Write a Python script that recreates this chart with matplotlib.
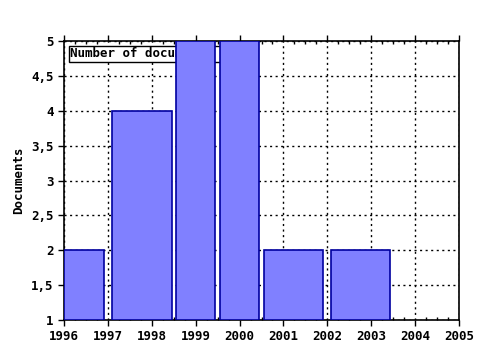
import matplotlib
matplotlib.use("Agg")
import matplotlib.pyplot as plt
from matplotlib.ticker import MultipleLocator, FuncFormatter

# bar edges (years) and counts
bar_left = [1996.0, 1997.09, 1998.55, 1999.55, 2000.55, 2002.09]
bar_right = [1996.91, 1998.45, 1999.43, 2000.44, 2001.89, 2003.43]
documents = [2, 4, 5, 5, 2, 2]
year_ticks = list(range(1996, 2006))
doc_ticks = [1, 1.5, 2, 2.5, 3, 3.5, 4, 4.5, 5]

plt.rcParams['font.family'] = 'DejaVu Sans Mono'
plt.rcParams['font.weight'] = 'bold'
plt.rcParams['font.size'] = 9

fig = plt.figure(figsize=(4.8, 3.5), dpi=100)
ax = fig.add_axes([64 / 480, 1 - 320 / 350, 395 / 480, 279 / 350])

widths = [r - l for l, r in zip(bar_left, bar_right)]
ax.bar(bar_left, [d - 1 for d in documents], width=widths, bottom=1, align='edge',
       color='#8080ff', edgecolor='#0000a0', linewidth=1.2, zorder=3,
       label='Number of documents')

ax.set_xlim(1996, 2005)
ax.set_ylim(1, 5)
ax.set_xticks(year_ticks)
ax.set_yticks(doc_ticks)
ax.yaxis.set_major_formatter(FuncFormatter(lambda v, p: ('%g' % v).replace('.', ',')))
ax.xaxis.set_minor_locator(MultipleLocator(0.25))
ax.grid(True, which='major', color='black', linestyle=(0, (1.5, 2.5)), linewidth=1, zorder=1)
ax.tick_params(axis='x', which='major', direction='out', length=4, width=1, top=True)
ax.tick_params(axis='x', which='minor', direction='in', length=2, width=1, top=True)
ax.tick_params(axis='y', which='major', direction='out', length=4, width=1)
for s in ax.spines.values():
    s.set_linewidth(1.2)
ax.set_ylabel('Documents', fontsize=9, fontweight='bold')

leg = ax.legend(loc='upper left', markerfirst=False, fancybox=False, framealpha=1,
                edgecolor='black', borderpad=0.1, handlelength=1.0, handleheight=0.6,
                borderaxespad=0.4, fontsize=9)
leg.set_zorder(2)
leg.get_frame().set_linewidth(1)

fig.savefig('out.png', dpi=100)
